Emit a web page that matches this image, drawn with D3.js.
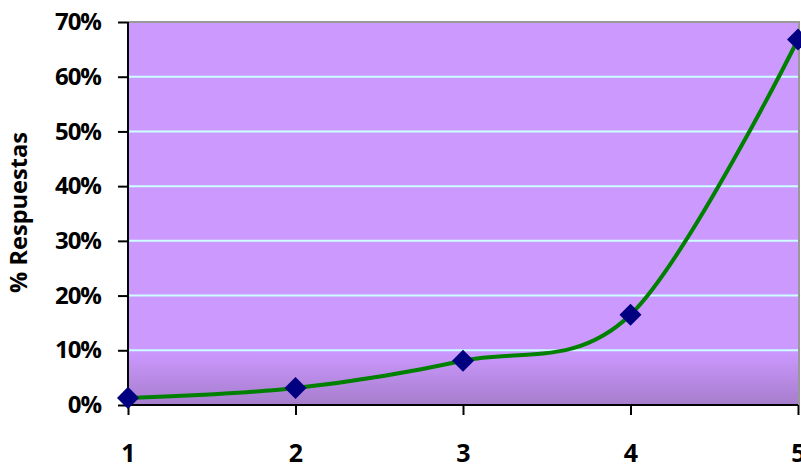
<!DOCTYPE html>
<html><head><meta charset="utf-8">
<script src="https://cdn.jsdelivr.net/npm/d3@7"></script>
<style>body{margin:0;background:#fff;overflow:hidden}svg{display:block}</style>
</head><body>
<svg id="c" width="801" height="468"></svg>
<script>
const categories = [1, 2, 3, 4, 5];
const values = [1.3, 3.1, 8.1, 16.5, 66.8];
const yTicks = [0, 10, 20, 30, 40, 50, 60, 70];
const yTitle = "% Respuestas";

const svg = d3.select("#c");
const L = 128, R = 798, T = 22, B = 405;
const x = d3.scalePoint().domain(categories).range([L, R]);
const y = d3.scaleLinear().domain([0, 70]).range([B, T]);

const defs = svg.append("defs");
const g = defs.append("linearGradient").attr("id", "bg").attr("x1", 0).attr("y1", 0).attr("x2", 0).attr("y2", 1);
g.append("stop").attr("offset", "0").attr("stop-color", "#CC99FF");
g.append("stop").attr("offset", "0.86").attr("stop-color", "#CC99FF");
g.append("stop").attr("offset", "1").attr("stop-color", "#A67DCC");

svg.append("rect").attr("x", L).attr("y", T).attr("width", R - L + 1).attr("height", B - T)
  .attr("fill", "url(#bg)");
svg.append("path").attr("d", `M${L},${T}H${R + 1}V${B}`).attr("fill", "none")
  .attr("stroke", "#999").attr("stroke-width", 2);

svg.append("g").selectAll("line").data(yTicks.filter(d => d > 0 && d < 70)).join("line")
  .attr("x1", L).attr("x2", R).attr("y1", d => y(d)).attr("y2", d => y(d))
  .attr("stroke", "#CCFFFF").attr("stroke-width", 2);

const font = "'Open Sans', sans-serif";
const ya = svg.append("g").attr("transform", `translate(${L},0)`)
  .call(d3.axisLeft(y).tickValues(yTicks).tickFormat(d => d + "%").tickSize(10).tickPadding(17));
ya.select(".domain").attr("stroke", "#000").attr("stroke-width", 2).attr("d", `M0,${T}V${B}`);
ya.selectAll(".tick line").attr("stroke", "#000").attr("stroke-width", 2);
ya.selectAll(".tick text").attr("font-family", font).attr("font-weight", "bold")
  .attr("font-size", 24).attr("fill", "#000").attr("letter-spacing", -1);

const xa = svg.append("g").attr("transform", `translate(0,${B})`)
  .call(d3.axisBottom(x).tickSize(10).tickPadding(29));
xa.select(".domain").attr("stroke", "#000").attr("stroke-width", 2).attr("d", `M${L},0H${R}`);
xa.selectAll(".tick line").attr("stroke", "#000").attr("stroke-width", 2);
xa.selectAll(".tick text").attr("font-family", font).attr("font-weight", "bold")
  .attr("font-size", 25).attr("fill", "#000");

const tt = svg.append("text").attr("transform", `translate(27,${(132 + 293) / 2}) rotate(-90)`)
  .attr("text-anchor", "middle").attr("font-family", font).attr("font-weight", "bold")
  .attr("font-size", 20).text(yTitle);
const len = tt.node().getComputedTextLength();
tt.attr("font-size", 20 * 161 / len);

const pts = categories.map((c, i) => [x(c), y(values[i])]);
svg.append("path").attr("d", d3.line().curve(d3.curveCardinal.tension(0))(pts))
  .attr("fill", "none").attr("stroke", "#008000").attr("stroke-width", 4);

svg.append("g").selectAll("path").data(pts).join("path")
  .attr("transform", d => `translate(${d[0]},${d[1]})`)
  .attr("d", d3.symbol().type(d3.symbolDiamond2).size(310))
  .attr("fill", "#000080");
</script>
</body></html>
